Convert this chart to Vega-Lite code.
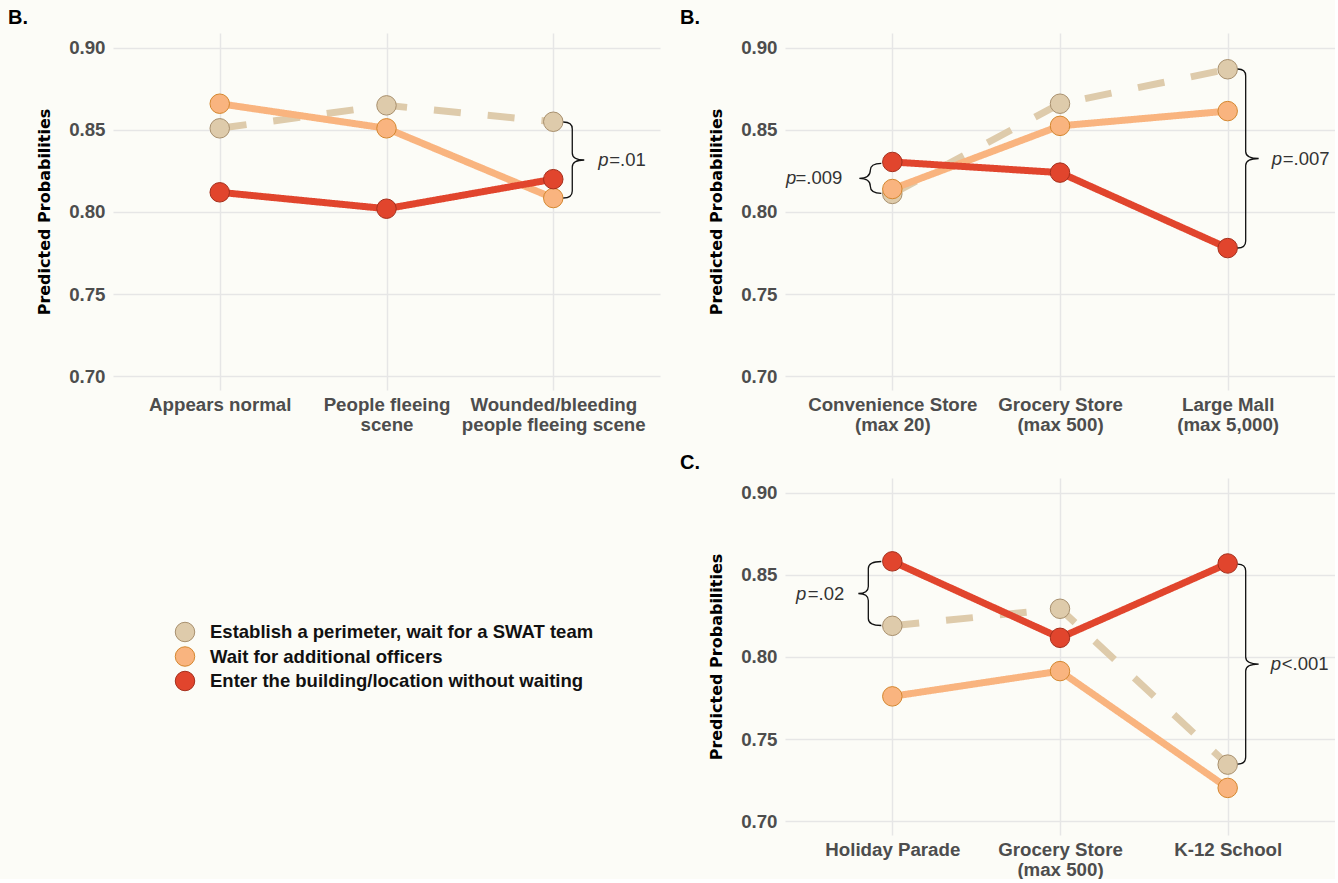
{
  "$schema": "https://vega.github.io/schema/vega-lite/v6.json",
  "background": "#FCFCF7",
  "padding": {"left": 8, "top": 8, "right": 0, "bottom": 0},
  "datasets": {
    "scene": [
      {"Scenario": "Appears normal", "Series": "Establish a perimeter, wait for a SWAT team", "Prob": 0.851},
      {"Scenario": "Appears normal", "Series": "Wait for additional officers", "Prob": 0.866},
      {"Scenario": "Appears normal", "Series": "Enter the building/location without waiting", "Prob": 0.812},
      {"Scenario": "People fleeing scene", "Series": "Establish a perimeter, wait for a SWAT team", "Prob": 0.865},
      {"Scenario": "People fleeing scene", "Series": "Wait for additional officers", "Prob": 0.851},
      {"Scenario": "People fleeing scene", "Series": "Enter the building/location without waiting", "Prob": 0.802},
      {"Scenario": "Wounded/bleeding people fleeing scene", "Series": "Establish a perimeter, wait for a SWAT team", "Prob": 0.855},
      {"Scenario": "Wounded/bleeding people fleeing scene", "Series": "Wait for additional officers", "Prob": 0.8085},
      {"Scenario": "Wounded/bleeding people fleeing scene", "Series": "Enter the building/location without waiting", "Prob": 0.820}
    ],
    "location": [
      {"Scenario": "Convenience Store (max 20)", "Series": "Establish a perimeter, wait for a SWAT team", "Prob": 0.811},
      {"Scenario": "Convenience Store (max 20)", "Series": "Wait for additional officers", "Prob": 0.814},
      {"Scenario": "Convenience Store (max 20)", "Series": "Enter the building/location without waiting", "Prob": 0.8305},
      {"Scenario": "Grocery Store (max 500)", "Series": "Establish a perimeter, wait for a SWAT team", "Prob": 0.866},
      {"Scenario": "Grocery Store (max 500)", "Series": "Wait for additional officers", "Prob": 0.8525},
      {"Scenario": "Grocery Store (max 500)", "Series": "Enter the building/location without waiting", "Prob": 0.824},
      {"Scenario": "Large Mall (max 5,000)", "Series": "Establish a perimeter, wait for a SWAT team", "Prob": 0.887},
      {"Scenario": "Large Mall (max 5,000)", "Series": "Wait for additional officers", "Prob": 0.8615},
      {"Scenario": "Large Mall (max 5,000)", "Series": "Enter the building/location without waiting", "Prob": 0.778}
    ],
    "setting": [
      {"Scenario": "Holiday Parade", "Series": "Establish a perimeter, wait for a SWAT team", "Prob": 0.819},
      {"Scenario": "Holiday Parade", "Series": "Wait for additional officers", "Prob": 0.776},
      {"Scenario": "Holiday Parade", "Series": "Enter the building/location without waiting", "Prob": 0.8583},
      {"Scenario": "Grocery Store (max 500)", "Series": "Establish a perimeter, wait for a SWAT team", "Prob": 0.8294},
      {"Scenario": "Grocery Store (max 500)", "Series": "Wait for additional officers", "Prob": 0.7914},
      {"Scenario": "Grocery Store (max 500)", "Series": "Enter the building/location without waiting", "Prob": 0.8117},
      {"Scenario": "K-12 School", "Series": "Establish a perimeter, wait for a SWAT team", "Prob": 0.7344},
      {"Scenario": "K-12 School", "Series": "Wait for additional officers", "Prob": 0.7202},
      {"Scenario": "K-12 School", "Series": "Enter the building/location without waiting", "Prob": 0.857}
    ],
    "notes": [
      {"Panel": "scene", "Side": "right", "Scenario": "Wounded/bleeding people fleeing scene", "Prob": 0.8317, "Label": "=.01"},
      {"Panel": "location", "Side": "left", "Scenario": "Convenience Store (max 20)", "Prob": 0.8205, "Label": "=.009"},
      {"Panel": "location", "Side": "right", "Scenario": "Large Mall (max 5,000)", "Prob": 0.8326, "Label": "=.007"},
      {"Panel": "setting", "Side": "left", "Scenario": "Holiday Parade", "Prob": 0.8387, "Label": "=.02"},
      {"Panel": "setting", "Side": "right", "Scenario": "K-12 School", "Prob": 0.7957, "Label": "<.001"}
    ],
    "legend": [
      {"Series": "Establish a perimeter, wait for a SWAT team"},
      {"Series": "Wait for additional officers"},
      {"Series": "Enter the building/location without waiting"}
    ]
  },
  "bounds": "flush",
  "columns": 2,
  "spacing": {"row": 88, "column": 125},
  "concat": [
    {
      "width": 547, "height": 357,
      "title": {"text": "B."},
      "data": {"name": "scene"},
      "encoding": {
        "x": {"field": "Scenario", "type": "nominal", "scale": {"type": "point", "padding": 0.64, "domain": ["Appears normal", "People fleeing scene", "Wounded/bleeding people fleeing scene"]},
              "axis": {"title": null, "labelExpr": "datum.label == 'People fleeing scene' ? ['People fleeing', 'scene'] : datum.label == 'Wounded/bleeding people fleeing scene' ? ['Wounded/bleeding', 'people fleeing scene'] : datum.label"}},
        "y": {"field": "Prob", "type": "quantitative", "scale": {"domain": [0.6915, 0.9091], "nice": false, "zero": false},
              "axis": {"title": "Predicted Probabilities", "values": [0.7, 0.75, 0.8, 0.85, 0.9], "format": ".2f"}}
      },
      "layer": [
        {"mark": {"type": "line", "strokeWidth": 7},
         "encoding": {
           "color": {"field": "Series", "type": "nominal", "scale": {"domain": ["Establish a perimeter, wait for a SWAT team", "Wait for additional officers", "Enter the building/location without waiting"], "range": ["#DECBAB", "#F9B47F", "#E1452D"]}, "legend": null},
           "strokeDash": {"field": "Series", "type": "nominal", "scale": {"domain": ["Establish a perimeter, wait for a SWAT team", "Wait for additional officers", "Enter the building/location without waiting"], "range": [[27, 27], [1, 0], [1, 0]]}, "legend": null}}},
        {"mark": {"type": "point", "filled": true, "size": 380, "strokeWidth": 1, "opacity": 1},
         "encoding": {
           "fill": {"field": "Series", "type": "nominal", "scale": {"domain": ["Establish a perimeter, wait for a SWAT team", "Wait for additional officers", "Enter the building/location without waiting"], "range": ["#DECBAB", "#F9B47F", "#E1452D"]}, "legend": null},
           "stroke": {"field": "Series", "type": "nominal", "scale": {"domain": ["Establish a perimeter, wait for a SWAT team", "Wait for additional officers", "Enter the building/location without waiting"], "range": ["#A8906E", "#D4872F", "#A52F1C"]}, "legend": null}}},
        {"data": {"name": "notes"}, "transform": [{"filter": "datum.Panel == 'scene' && datum.Side == 'right'"}],
         "mark": {"type": "point", "shape": "M10,-38 Q19,-38 19,-31 L19,-7 Q19,0 31,0 Q19,0 19,7 L19,31 Q19,38 10,38", "size": 4, "filled": false, "color": "#111111", "strokeWidth": 1.3, "opacity": 1}},
        {"data": {"name": "notes"}, "transform": [{"filter": "datum.Panel == 'scene' && datum.Side == 'right'"}],
         "mark": {"type": "text", "text": "p", "fontStyle": "italic", "align": "left", "baseline": "middle", "dx": 45, "fontSize": 18.5, "font": "Liberation Sans", "color": "#333333"}},
        {"data": {"name": "notes"}, "transform": [{"filter": "datum.Panel == 'scene' && datum.Side == 'right'"}],
         "mark": {"type": "text", "align": "left", "baseline": "middle", "dx": 56, "fontSize": 18.5, "font": "Liberation Sans", "color": "#333333"},
         "encoding": {"text": {"field": "Label"}}}
      ]
    },
    {
      "width": 550, "height": 357,
      "title": {"text": "B."},
      "data": {"name": "location"},
      "encoding": {
        "x": {"field": "Scenario", "type": "nominal", "scale": {"type": "point", "padding": 0.64, "domain": ["Convenience Store (max 20)", "Grocery Store (max 500)", "Large Mall (max 5,000)"]},
              "axis": {"title": null, "labelExpr": "split(replace(datum.label, ' (', '|('), '|')"}},
        "y": {"field": "Prob", "type": "quantitative", "scale": {"domain": [0.6915, 0.9091], "nice": false, "zero": false},
              "axis": {"title": "Predicted Probabilities", "values": [0.7, 0.75, 0.8, 0.85, 0.9], "format": ".2f"}}
      },
      "layer": [
        {"mark": {"type": "line", "strokeWidth": 7},
         "encoding": {
           "color": {"field": "Series", "type": "nominal", "scale": {"domain": ["Establish a perimeter, wait for a SWAT team", "Wait for additional officers", "Enter the building/location without waiting"], "range": ["#DECBAB", "#F9B47F", "#E1452D"]}, "legend": null},
           "strokeDash": {"field": "Series", "type": "nominal", "scale": {"domain": ["Establish a perimeter, wait for a SWAT team", "Wait for additional officers", "Enter the building/location without waiting"], "range": [[27, 27], [1, 0], [1, 0]]}, "legend": null}}},
        {"mark": {"type": "point", "filled": true, "size": 380, "strokeWidth": 1, "opacity": 1},
         "encoding": {
           "fill": {"field": "Series", "type": "nominal", "scale": {"domain": ["Establish a perimeter, wait for a SWAT team", "Wait for additional officers", "Enter the building/location without waiting"], "range": ["#DECBAB", "#F9B47F", "#E1452D"]}, "legend": null},
           "stroke": {"field": "Series", "type": "nominal", "scale": {"domain": ["Establish a perimeter, wait for a SWAT team", "Wait for additional officers", "Enter the building/location without waiting"], "range": ["#A8906E", "#D4872F", "#A52F1C"]}, "legend": null}}},
        {"data": {"name": "notes"}, "transform": [{"filter": "datum.Panel == 'location' && datum.Side == 'left'"}],
         "mark": {"type": "point", "shape": "M-11,-15 Q-22,-15 -22,-8 Q-22,0 -33,0 Q-22,0 -22,8 Q-22,15 -11,15", "size": 4, "filled": false, "color": "#111111", "strokeWidth": 1.3, "opacity": 1}},
        {"data": {"name": "notes"}, "transform": [{"filter": "datum.Panel == 'location' && datum.Side == 'left'"}],
         "mark": {"type": "text", "text": "p", "fontStyle": "italic", "align": "right", "baseline": "middle", "dx": -96, "fontSize": 18.5, "font": "Liberation Sans", "color": "#333333"}},
        {"data": {"name": "notes"}, "transform": [{"filter": "datum.Panel == 'location' && datum.Side == 'left'"}],
         "mark": {"type": "text", "align": "right", "baseline": "middle", "dx": -50, "fontSize": 18.5, "font": "Liberation Sans", "color": "#333333"},
         "encoding": {"text": {"field": "Label"}}},
        {"data": {"name": "notes"}, "transform": [{"filter": "datum.Panel == 'location' && datum.Side == 'right'"}],
         "mark": {"type": "point", "shape": "M10,-89.5 Q18,-89.5 18,-82.5 L18,-7 Q18,0 31,0 Q18,0 18,7 L18,82.5 Q18,89.5 10,89.5", "size": 4, "filled": false, "color": "#111111", "strokeWidth": 1.3, "opacity": 1}},
        {"data": {"name": "notes"}, "transform": [{"filter": "datum.Panel == 'location' && datum.Side == 'right'"}],
         "mark": {"type": "text", "text": "p", "fontStyle": "italic", "align": "left", "baseline": "middle", "dx": 44, "fontSize": 18.5, "font": "Liberation Sans", "color": "#333333"}},
        {"data": {"name": "notes"}, "transform": [{"filter": "datum.Panel == 'location' && datum.Side == 'right'"}],
         "mark": {"type": "text", "align": "left", "baseline": "middle", "dx": 55, "fontSize": 18.5, "font": "Liberation Sans", "color": "#333333"},
         "encoding": {"text": {"field": "Label"}}}
      ]
    },
    {
      "width": 144, "height": 357,
      "data": {"name": "legend"},
      "encoding": {
        "y": {"field": "Series", "type": "nominal", "scale": {"type": "point", "padding": 0, "range": [154, 203], "domain": ["Establish a perimeter, wait for a SWAT team", "Wait for additional officers", "Enter the building/location without waiting"]}, "axis": null}
      },
      "layer": [
        {"mark": {"type": "point", "filled": true, "size": 380, "strokeWidth": 1, "opacity": 1},
         "encoding": {
           "fill": {"field": "Series", "type": "nominal", "scale": {"domain": ["Establish a perimeter, wait for a SWAT team", "Wait for additional officers", "Enter the building/location without waiting"], "range": ["#DECBAB", "#F9B47F", "#E1452D"]}, "legend": null},
           "stroke": {"field": "Series", "type": "nominal", "scale": {"domain": ["Establish a perimeter, wait for a SWAT team", "Wait for additional officers", "Enter the building/location without waiting"], "range": ["#A8906E", "#D4872F", "#A52F1C"]}, "legend": null}}},
        {"mark": {"type": "text", "align": "left", "baseline": "middle", "dx": 25, "fontSize": 18.5, "fontWeight": "bold", "font": "Liberation Sans", "color": "#111111"},
         "encoding": {"text": {"field": "Series"}}}
      ]
    },
    {
      "width": 550, "height": 357,
      "title": {"text": "C."},
      "data": {"name": "setting"},
      "encoding": {
        "x": {"field": "Scenario", "type": "nominal", "scale": {"type": "point", "padding": 0.64, "domain": ["Holiday Parade", "Grocery Store (max 500)", "K-12 School"]},
              "axis": {"title": null, "labelExpr": "split(replace(datum.label, ' (', '|('), '|')"}},
        "y": {"field": "Prob", "type": "quantitative", "scale": {"domain": [0.6915, 0.9091], "nice": false, "zero": false},
              "axis": {"title": "Predicted Probabilities", "values": [0.7, 0.75, 0.8, 0.85, 0.9], "format": ".2f"}}
      },
      "layer": [
        {"mark": {"type": "line", "strokeWidth": 7},
         "encoding": {
           "color": {"field": "Series", "type": "nominal", "scale": {"domain": ["Establish a perimeter, wait for a SWAT team", "Wait for additional officers", "Enter the building/location without waiting"], "range": ["#DECBAB", "#F9B47F", "#E1452D"]}, "legend": null},
           "strokeDash": {"field": "Series", "type": "nominal", "scale": {"domain": ["Establish a perimeter, wait for a SWAT team", "Wait for additional officers", "Enter the building/location without waiting"], "range": [[27, 27], [1, 0], [1, 0]]}, "legend": null}}},
        {"mark": {"type": "point", "filled": true, "size": 380, "strokeWidth": 1, "opacity": 1},
         "encoding": {
           "fill": {"field": "Series", "type": "nominal", "scale": {"domain": ["Establish a perimeter, wait for a SWAT team", "Wait for additional officers", "Enter the building/location without waiting"], "range": ["#DECBAB", "#F9B47F", "#E1452D"]}, "legend": null},
           "stroke": {"field": "Series", "type": "nominal", "scale": {"domain": ["Establish a perimeter, wait for a SWAT team", "Wait for additional officers", "Enter the building/location without waiting"], "range": ["#A8906E", "#D4872F", "#A52F1C"]}, "legend": null}}},
        {"data": {"name": "notes"}, "transform": [{"filter": "datum.Panel == 'setting' && datum.Side == 'left'"}],
         "mark": {"type": "point", "shape": "M-11,-32 Q-24,-32 -24,-25 L-24,-7 Q-24,0 -34,0 Q-24,0 -24,7 L-24,25 Q-24,32 -11,32", "size": 4, "filled": false, "color": "#111111", "strokeWidth": 1.3, "opacity": 1}},
        {"data": {"name": "notes"}, "transform": [{"filter": "datum.Panel == 'setting' && datum.Side == 'left'"}],
         "mark": {"type": "text", "text": "p", "fontStyle": "italic", "align": "right", "baseline": "middle", "dx": -86, "fontSize": 18.5, "font": "Liberation Sans", "color": "#333333"}},
        {"data": {"name": "notes"}, "transform": [{"filter": "datum.Panel == 'setting' && datum.Side == 'left'"}],
         "mark": {"type": "text", "align": "right", "baseline": "middle", "dx": -48, "fontSize": 18.5, "font": "Liberation Sans", "color": "#333333"},
         "encoding": {"text": {"field": "Label"}}},
        {"data": {"name": "notes"}, "transform": [{"filter": "datum.Panel == 'setting' && datum.Side == 'right'"}],
         "mark": {"type": "point", "shape": "M10,-100 Q18,-100 18,-93 L18,-7 Q18,0 31,0 Q18,0 18,7 L18,93 Q18,100 10,100", "size": 4, "filled": false, "color": "#111111", "strokeWidth": 1.3, "opacity": 1}},
        {"data": {"name": "notes"}, "transform": [{"filter": "datum.Panel == 'setting' && datum.Side == 'right'"}],
         "mark": {"type": "text", "text": "p", "fontStyle": "italic", "align": "left", "baseline": "middle", "dx": 43, "fontSize": 18.5, "font": "Liberation Sans", "color": "#333333"}},
        {"data": {"name": "notes"}, "transform": [{"filter": "datum.Panel == 'setting' && datum.Side == 'right'"}],
         "mark": {"type": "text", "align": "left", "baseline": "middle", "dx": 54, "fontSize": 18.5, "font": "Liberation Sans", "color": "#333333"},
         "encoding": {"text": {"field": "Label"}}}
      ]
    }
  ],
  "config": {
    "view": {"stroke": null},
    "font": "Liberation Sans",
    "title": {"anchor": "start", "frame": "group", "dx": -105, "offset": 5, "baseline": "alphabetic", "fontSize": 20, "font": "Liberation Sans", "fontWeight": "bold", "color": "#000000"},
    "axis": {"domain": false, "ticks": false, "tickSize": 0, "grid": true, "gridColor": "#E6E6E6", "gridWidth": 1.5,
             "labelFont": "Liberation Sans", "labelFontSize": 18.7, "labelFontWeight": "bold", "labelColor": "#4D4D4D", "labelLimit": 400,
             "titleFont": "DejaVu Sans", "titleFontSize": 16, "titleFontWeight": "bold", "titleColor": "#000000"},
    "axisX": {"labelPadding": 5, "labelLineHeight": 20, "labelAngle": 0},
    "axisY": {"labelPadding": 8, "titlePadding": 16}
  }
}
